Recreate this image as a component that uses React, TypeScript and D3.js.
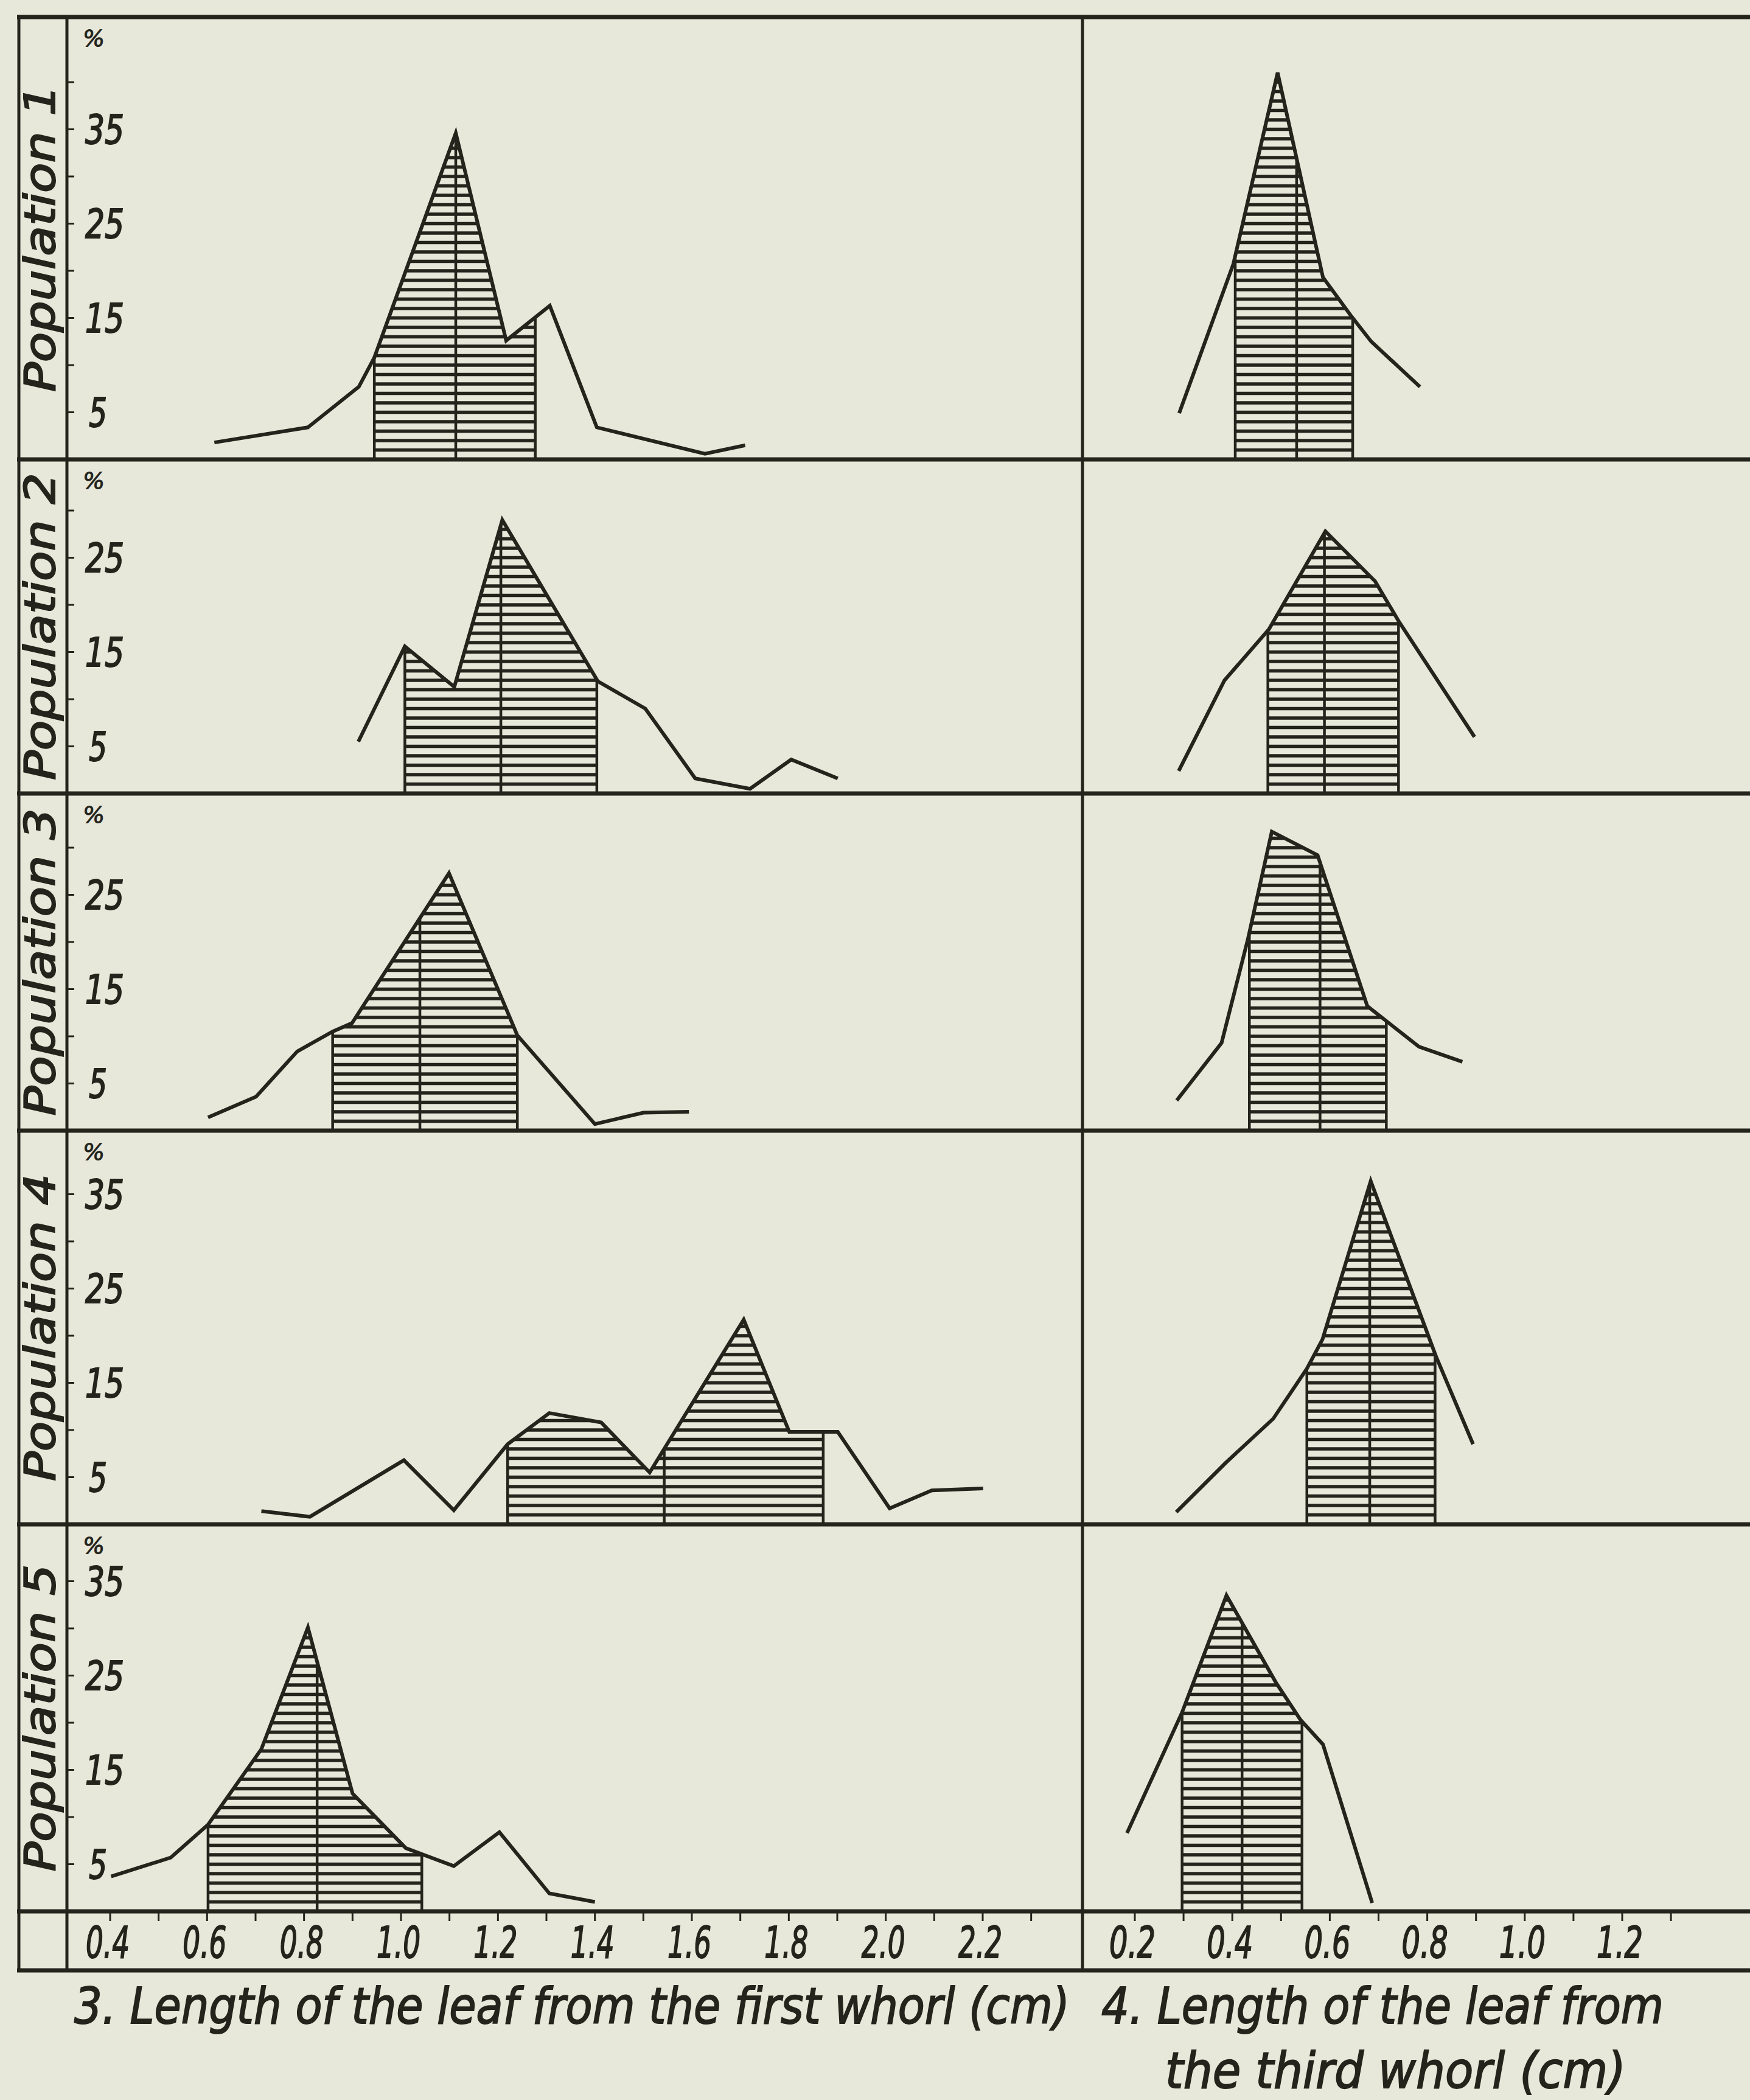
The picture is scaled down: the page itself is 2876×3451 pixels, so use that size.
import * as d3 from "d3";
import { useLayoutEffect, useRef, useState } from "react";

// tick labels
const FIRST_TICKS = [0.4, 0.6, 0.8, 1.0, 1.2, 1.4, 1.6, 1.8, 2.0, 2.2];
const THIRD_TICKS = [0.2, 0.4, 0.6, 0.8, 1.0, 1.2];
const POPULATIONS = ["Population 1", "Population 2", "Population 3", "Population 4", "Population 5"];
const PCT_TICKS = [
  [5, 15, 25, 35],
  [5, 15, 25],
  [5, 15, 25],
  [5, 15, 25, 35],
  [5, 15, 25, 35],
];

// frequency polygons, leaf from the first whorl: [cm, %]
const first1 = [[0.615, 1.8], [0.808, 3.4], [0.913, 7.7], [0.945, 10.8], [1.113, 34.6], [1.217, 12.6], [1.307, 16.3], [1.404, 3.4], [1.627, 0.6], [1.71, 1.5]];
const first2 = [[0.912, 5.5], [1.008, 15.6], [1.11, 11.3], [1.209, 29.0], [1.406, 11.9], [1.504, 9.0], [1.607, 1.6], [1.72, 0.5], [1.805, 3.6], [1.901, 1.6]];
const first3 = [[0.602, 1.4], [0.701, 3.6], [0.786, 8.4], [0.859, 10.5], [0.899, 11.4], [1.099, 27.3], [1.24, 10.1], [1.4, 0.7], [1.5, 1.9], [1.594, 2.0]];
const first4 = [[0.712, 1.4], [0.812, 0.8], [1.006, 6.8], [1.109, 1.5], [1.22, 8.5], [1.306, 11.8], [1.413, 10.8], [1.513, 5.5], [1.707, 21.7], [1.801, 9.8], [1.901, 9.8], [2.008, 1.7], [2.095, 3.6], [2.201, 3.8]];
const first5 = [[0.402, 3.7], [0.525, 5.7], [0.602, 9.2], [0.712, 17.2], [0.808, 30.1], [0.9, 12.5], [1.01, 6.7], [1.109, 4.8], [1.203, 8.4], [1.306, 1.9], [1.4, 1.0]];
const firstBand = [[0.945, 1.277], [1.008, 1.404], [0.859, 1.24], [1.22, 1.871], [0.602, 1.043]];
const firstMean = [1.113, 1.206, 1.039, 1.543, 0.827];

// leaf from the third whorl
const third1 = [[0.291, 4.9], [0.402, 20.7], [0.493, 41.0], [0.586, 19.3], [0.644, 15.2], [0.685, 12.5], [0.785, 7.7]];
const third2 = [[0.29, 2.4], [0.384, 12.0], [0.475, 17.4], [0.591, 27.8], [0.693, 22.5], [0.741, 18.3], [0.897, 6.0]];
const third3 = [[0.286, 3.2], [0.378, 9.3], [0.432, 20.3], [0.481, 31.7], [0.575, 29.2], [0.677, 13.2], [0.783, 8.9], [0.872, 7.3]];
const third4 = [[0.285, 1.3], [0.386, 6.5], [0.484, 11.2], [0.553, 16.5], [0.585, 19.6], [0.684, 36.4], [0.818, 17.8], [0.894, 8.5]];
const third5 = [[0.184, 8.3], [0.297, 21.1], [0.388, 33.5], [0.489, 24.3], [0.54, 20.3], [0.586, 17.7], [0.687, 0.9]];
const thirdBand = [[0.406, 0.647], [0.473, 0.741], [0.435, 0.716], [0.553, 0.816], [0.297, 0.543]];
const thirdMean = [0.532, 0.589, 0.58, 0.682, 0.42];

const firstWhorl = [first1, first2, first3, first4, first5];
const thirdWhorl = [third1, third2, third3, third4, third5];

const W = 2876;
const H = 3451;
const INK = "#24241c";
const PAPER = "#e8e8da";
const FONT = "'DejaVu Sans', 'Liberation Sans', sans-serif";
const ROW_EDGES = [28, 755, 1304, 1858, 2505, 3141];
const AXIS_BOTTOM = 3238;
const X_OUTER = 31;
const X_LABEL = 110;
const X_DIV = 1779;
const UNIT = 15.5; // px per percent

const xFirst = d3.scaleLinear().domain([0.4, 2.2]).range([181, 1615]);
const xThird = d3.scaleLinear().domain([0.2, 1.2]).range([1865, 2666]);

// lettering a bit heavier than the plain font, like the stencil text
const ink = { fill: INK, stroke: INK, strokeWidth: 2, fontFamily: FONT, fontStyle: "italic" };

function interp(pts, v) {
  for (let i = 0; i < pts.length - 1; i++) {
    const [x0, y0] = pts[i];
    const [x1, y1] = pts[i + 1];
    if (v >= x0 && v <= x1) return y0 + ((v - x0) / (x1 - x0)) * (y1 - y0);
  }
  return 0;
}

// narrow lettering: squeeze the text horizontally to a given width
function FitText({ x, y, width, children, ...rest }) {
  const ref = useRef(null);
  const [k, setK] = useState(1);
  useLayoutEffect(() => {
    const w = ref.current.getComputedTextLength();
    if (w > 0) setK(width / w);
  }, [width]);
  return (
    <text ref={ref} transform={`translate(${x},${y}) scale(${k},1)`} {...rest}>
      {children}
    </text>
  );
}

function Panel({ pts, band, mean, x, base, id }) {
  const y = d3.scaleLinear().domain([0, 1]).range([base, base - UNIT]);
  const [lo, hi] = band;
  const inside = pts.filter((p) => p[0] > lo && p[0] < hi);
  const area = [[lo, 0], [lo, interp(pts, lo)], ...inside, [hi, interp(pts, hi)], [hi, 0]];
  const top = d3.max(area, (d) => d[1]);
  const line = d3.line().x((d) => x(d[0])).y((d) => y(d[1]));

  return (
    <g>
      <clipPath id={id}>
        <path d={line(area) + "Z"} />
      </clipPath>
      <g clipPath={`url(#${id})`}>
        {d3.range(1, Math.ceil(top)).map((k) => (
          <line key={k} x1={x(lo)} x2={x(hi)} y1={y(k)} y2={y(k)} stroke={INK} strokeWidth={5.5} />
        ))}
      </g>
      {[lo, hi, mean].map((v, i) => (
        <line key={i} x1={x(v)} x2={x(v)} y1={base} y2={y(interp(pts, v))} stroke={INK} strokeWidth={4.5} />
      ))}
      <path d={line(pts)} fill="none" stroke={INK} strokeWidth={6} strokeLinejoin="miter" />
    </g>
  );
}

export default function App() {
  const minorFirst = d3.range(0.4, 2.31, 0.1);
  const minorThird = d3.range(0.2, 1.31, 0.1);

  return (
    <svg width={W} height={H} style={{ position: "absolute", left: 0, top: 0, display: "block" }}>
      <rect width={W} height={H} fill={PAPER} />

      {POPULATIONS.map((name, r) => {
        const top = ROW_EDGES[r];
        const base = ROW_EDGES[r + 1];
        const y = d3.scaleLinear().domain([0, 1]).range([base, base - UNIT]);
        const tickVals = d3.range(5, (base - top) / UNIT - 3, 5);
        return (
          <g key={name}>
            <Panel pts={firstWhorl[r]} band={firstBand[r]} mean={firstMean[r]} x={xFirst} base={base} id={`f${r}`} />
            <Panel pts={thirdWhorl[r]} band={thirdBand[r]} mean={thirdMean[r]} x={xThird} base={base} id={`t${r}`} />
            <text
              {...ink}
              transform={`translate(90, ${(top + base) / 2}) rotate(-90)`}
              textAnchor="middle"
              fontSize={70}
              textLength={505}
              lengthAdjust="spacingAndGlyphs"
            >
              {name}
            </text>
            <text {...ink} strokeWidth={1} x={136} y={top + 48} fontSize={38}>
              %
            </text>
            {tickVals.map((v) => (
              <line key={v} x1={X_LABEL} x2={X_LABEL + 12} y1={y(v)} y2={y(v)} stroke={INK} strokeWidth={3} />
            ))}
            {PCT_TICKS[r].map((v) => (
              <text
                key={v}
                {...ink}
                x={v < 10 ? 146 : 140}
                y={y(v)}
                dy="0.36em"
                fontSize={66}
                textLength={v < 10 ? 30 : 64}
                lengthAdjust="spacingAndGlyphs"
              >
                {v}
              </text>
            ))}
          </g>
        );
      })}

      {/* frame */}
      {[...ROW_EDGES, AXIS_BOTTOM].map((yy, i) => (
        <line key={i} x1={X_OUTER - 3} x2={W} y1={yy} y2={yy} stroke={INK} strokeWidth={7} />
      ))}
      {[X_OUTER, X_LABEL, X_DIV].map((xx) => (
        <line key={xx} x1={xx} x2={xx} y1={ROW_EDGES[0]} y2={AXIS_BOTTOM} stroke={INK} strokeWidth={5} />
      ))}

      {/* x axes */}
      {minorFirst.map((v, i) => (
        <line key={"fm" + i} x1={xFirst(v)} x2={xFirst(v)} y1={ROW_EDGES[5]} y2={ROW_EDGES[5] + 16} stroke={INK} strokeWidth={3} />
      ))}
      {minorThird.map((v, i) => (
        <line key={"tm" + i} x1={xThird(v)} x2={xThird(v)} y1={ROW_EDGES[5]} y2={ROW_EDGES[5] + 16} stroke={INK} strokeWidth={3} />
      ))}
      {FIRST_TICKS.map((v) => (
        <text
          key={"f" + v}
          {...ink}
          x={xFirst(v) - 4}
          y={3217}
          textAnchor="middle"
          fontSize={72}
          textLength={72}
          lengthAdjust="spacingAndGlyphs"
        >
          {v.toFixed(1)}
        </text>
      ))}
      {THIRD_TICKS.map((v) => (
        <text
          key={"t" + v}
          {...ink}
          x={xThird(v) - 4}
          y={3217}
          textAnchor="middle"
          fontSize={72}
          textLength={76}
          lengthAdjust="spacingAndGlyphs"
        >
          {v.toFixed(1)}
        </text>
      ))}

      {/* captions */}
      <g {...ink} fontSize={82}>
        <FitText x={122} y={3325} width={1636}>
          3. Length of the leaf from the first whorl (cm)
        </FitText>
        <FitText x={1810} y={3325} width={924}>
          4. Length of the leaf from
        </FitText>
        <FitText x={1915} y={3431} width={757}>
          the third whorl (cm)
        </FitText>
      </g>
    </svg>
  );
}
